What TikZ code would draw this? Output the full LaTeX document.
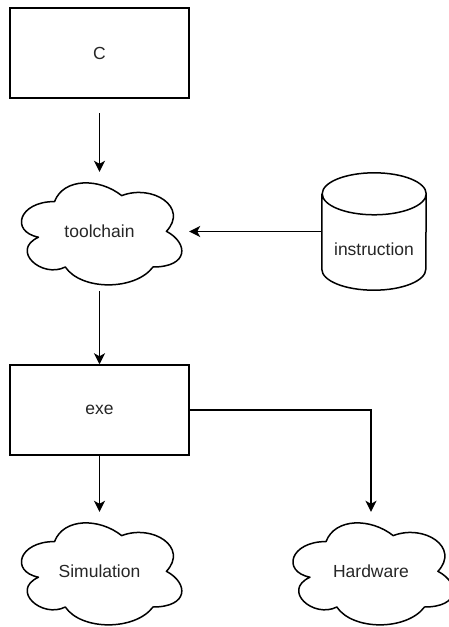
\documentclass[tikz,border=0pt]{standalone}
\usepackage{fontspec}
\setmainfont{Liberation Sans}
\usetikzlibrary{arrows.meta}
\newcommand{\drawcloud}[1]{%
  \draw[cloudline, shift={(#1.north west)}, x=179pt, y=-119pt]
    (0.25,0.25) .. controls (0.05,0.25) and (0,0.5) .. (0.16,0.55)
    .. controls (0,0.66) and (0.18,0.9) .. (0.31,0.8)
    .. controls (0.4,1) and (0.7,1) .. (0.8,0.8)
    .. controls (1,0.8) and (1,0.6) .. (0.875,0.5)
    .. controls (1,0.3) and (0.8,0.1) .. (0.625,0.2)
    .. controls (0.5,0.05) and (0.3,0.05) .. (0.25,0.25) -- cycle;}
\begin{document}
\begin{tikzpicture}[x=1pt, y=-1pt,
  every node/.style={font=\fontsize{17.5}{21}\selectfont, text=black!85},
  boxnode/.style={draw=black, line width=1.5pt, minimum width=179pt, minimum height=90pt, inner sep=0pt},
  cloudnode/.style={minimum width=179pt, minimum height=119pt, inner sep=0pt},
  cylnode/.style={minimum width=104pt, minimum height=117pt, inner sep=0pt},
  cloudline/.style={line width=1.5pt, draw=black, line join=round},
  arr/.style={line width=1.5pt, draw=black, -{Stealth[length=11pt,width=11pt,inset=3pt]}}]
\useasboundingbox (0,0) rectangle (449,627);
\fill[white] (0,0) rectangle (449,627);

\node[boxnode] (C) at (99.5,53) {C};
\coordinate (cstart) at (99.5,113);

\node[cloudnode] (tc) at (99.5,231.5) {toolchain};
\drawcloud{tc}

\node[cylnode] (ins) at (374,231.5) {};
\draw[line width=1.5pt]
  ([yshift=-21pt]ins.north west) -- ([yshift=21pt]ins.south west)
  arc[start angle=180, end angle=360, x radius=52pt, y radius=21pt]
  -- ([yshift=-21pt]ins.north east)
  arc[start angle=0, end angle=180, x radius=52pt, y radius=21pt]
  arc[start angle=180, end angle=360, x radius=52pt, y radius=21pt];
\node (inslabel) at (374,249) {instruction};

\node[boxnode] (exe) at (99.5,410) {exe};

\node[cloudnode] (sim) at (99.5,571.5) {Simulation};
\drawcloud{sim}
\node[cloudnode] (hw) at (371,571.5) {Hardware};
\drawcloud{hw}

\draw[arr] (cstart) -- (tc.north);
\draw[arr] (ins.west) -- (tc.east);
\draw[arr] (tc.south) -- (exe.north);
\draw[arr] (exe.south) -- (sim.north);
\draw[arr] (exe.east) -| (hw.north);
\end{tikzpicture}
\end{document}
